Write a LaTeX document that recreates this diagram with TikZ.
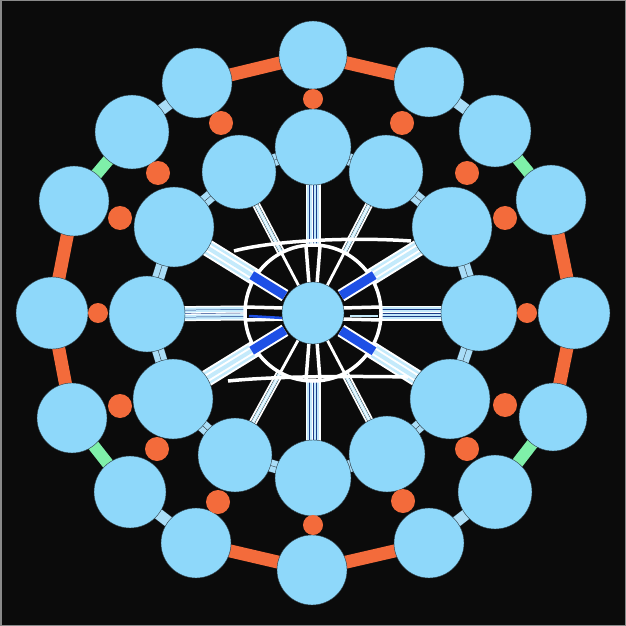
\documentclass[tikz,border=0pt]{standalone}
\usetikzlibrary{calc}
\pgfdeclarelayer{bg}
\pgfsetlayers{bg,main}
\definecolor{bgc}{HTML}{0B0B0B}
\definecolor{bub}{HTML}{8ED8FA}
\definecolor{bubedge}{HTML}{2B3A42}
\definecolor{orng}{HTML}{F36B3B}
\definecolor{grn}{HTML}{7FF0A9}
\definecolor{lnk}{HTML}{A9DDF7}
\definecolor{strand}{HTML}{C4EAFB}
\definecolor{navy}{HTML}{1B3E8A}
\definecolor{dblue}{HTML}{1E50E6}
\definecolor{framec}{HTML}{8A8A8A}
\begin{document}
\begin{tikzpicture}[x=0.03cm,y=-0.03cm,
  pw/.style={line width=#1*0.03cm},
  bubble/.style={circle,fill=bub,draw=bubedge,line width=0.35pt,inner sep=0pt,minimum size=#1*0.06cm},
  odot/.style={circle,fill=orng,inner sep=0pt,minimum size=#1*0.06cm},
  orbar/.style={draw=orng,pw=13},
  grbar/.style={draw=grn,pw=12},
  lbar/.style={draw=bubedge,double=lnk,double distance=11*0.03cm,line width=0.35pt},
  ilink/.style={preaction={draw=bubedge,double=lnk,double distance=12*0.03cm,line width=0.35pt},draw=bubedge,line width=0.35pt},
  sband/.style={preaction={draw=white,pw=15},preaction={draw=strand,pw=12},preaction={draw=navy,pw=7.5},preaction={draw=strand,pw=6.5},preaction={draw=white,pw=2.5},draw=navy,pw=0.4},
  dband/.style={preaction={draw=white,pw=17},preaction={draw=strand,pw=13},preaction={draw=white,pw=8},draw=strand,pw=4},
  tband/.style={preaction={draw=white,pw=8},preaction={draw=bgc,pw=4.2},preaction={draw=strand,pw=3.6},draw=white,pw=0.8},
  wline/.style={draw=white,pw=3.5},
  bseg/.style={preaction={draw=white,pw=13},draw=dblue,pw=9}
]
\useasboundingbox (0,0) rectangle (626,626);
% outer ring
\foreach \n/\x/\y/\r in {O1/313/55/34, O2/197/83/35, O3/429/82/35, O4/132/132/37, O5/495/131/36, O6/74/201/35, O7/551/200/35, O8/52/313/36, O9/574/313/36, O10/72/418/35, O11/553/417/34, O12/130/492/36, O13/495/492/37, O14/196/543/35, O15/429/543/35, O16/312/570/35}
  \node[bubble=\r] (\n) at (\x,\y) {};
% inner ring
\foreach \n/\x/\y/\r in {I1/313/147/38, I2/239/172/37, I3/386/172/37, I4/174/227/40, I5/452/227/40, I6/147/314/38, I7/479/313/38, I8/173/399/40, I9/450/399/40, I10/235/455/37, I11/387/454/38, I12/313/478/38}
  \node[bubble=\r] (\n) at (\x,\y) {};
% centre
\node[bubble=31] (C) at (313,313) {};
% orange dots
\foreach \n/\x/\y/\r in {D1/313/99/10, D2/221/123/12, D3/402/123/12, D4/158/173/12, D5/467/173/12, D6/120/218/12, D7/505/218/12, D8/98/313/10, D9/527/313/10, D10/120/406/12, D11/505/405/12, D12/157/449/12, D13/467/449/12, D14/218/502/12, D15/403/501/12, D16/313/525/10}
  \node[odot=\r] (\n) at (\x,\y) {};

\begin{pgfonlayer}{bg}
\fill[bgc] (0,0) rectangle (626,626);
\draw[framec,pw=1.5] (0.75,0.75) rectangle (625.25,625.25);
% outer links
\foreach \a/\b in {O1/O2,O1/O3,O6/O8,O8/O10,O7/O9,O9/O11,O14/O16,O16/O15}
  \draw[orbar] (\a.center) -- (\b.center);
\foreach \a/\b in {O4/O6,O5/O7,O10/O12,O11/O13}
  \draw[grbar] (\a.center) -- (\b.center);
\foreach \a/\b in {O2/O4,O3/O5,O12/O14,O13/O15}
  \draw[lbar] (\a.center) -- (\b.center);
% inner links
\foreach \a/\b in {I1/I2,I2/I4,I4/I6,I6/I8,I8/I10,I10/I12,I12/I11,I11/I9,I9/I7,I7/I5,I5/I3,I3/I1}
  \draw[ilink] (\a.center) -- (\b.center);
% junction coordinates
\coordinate (TopJ) at (313,246);
\coordinate (BotJ) at (313,379);
\coordinate (LJ) at (245,313);
\coordinate (RJ) at (381,313);
\foreach \k in {4,5,8,9}{
  \coordinate (R\k) at ($(C.center)!2.04cm!(I\k.center)$);
  \coordinate (Ba\k) at ($(C.center)!0.99cm!(I\k.center)$);
  \coordinate (Bb\k) at ($(C.center)!2.16cm!(I\k.center)$);
}
\foreach \k in {2,3,10,11}{
  \coordinate (R\k) at ($(C.center)!2.04cm!(I\k.center)$);
}
% spokes
\draw[sband] (I1.center) -- (TopJ);
\draw[sband] (BotJ) -- (I12.center);
\draw[sband] (I6.center) -- (LJ);
\draw[sband] (RJ) -- (I7.center);
\foreach \k in {4,5,8,9}
  \draw[dband] (R\k) -- (I\k.center);
\foreach \k in {2,3,10,11}{
  \draw[tband] (I\k.center) -- (R\k);
  \draw[wline,pw=2.8] (R\k) -- (C.center);
}
% ring and cross curves
\draw[wline] (C.center) circle[radius=2.04cm];
\coordinate (TL) at (234,251); \coordinate (TR) at (411,241);
\coordinate (BL) at (228,381); \coordinate (BR) at (408,377);
\draw[wline] (TL) .. controls (275,240) and (355,237) .. (TR);
\draw[wline] (BL) .. controls (275,376) and (355,376) .. (BR);
% inner short lines
\coordinate (v1) at (306,246); \coordinate (v2) at (309,284);
\coordinate (v3) at (320,246); \coordinate (v4) at (317,284);
\coordinate (v5) at (309,342); \coordinate (v6) at (306,380);
\coordinate (v7) at (317,342); \coordinate (v8) at (320,380);
\draw[wline] (v1) -- (v2); \draw[wline] (v3) -- (v4);
\draw[wline] (v5) -- (v6); \draw[wline] (v7) -- (v8);
\coordinate (h1) at (245,307); \coordinate (h2) at (284,308);
\coordinate (h3) at (245,320); \coordinate (h4) at (284,319);
\coordinate (h5) at (342,308); \coordinate (h6) at (381,307);
\coordinate (h7) at (342,319); \coordinate (h8) at (381,320);
\draw[wline] (h1) -- (h2); \draw[wline] (h3) -- (h4);
\draw[wline] (h5) -- (h6); \draw[wline] (h7) -- (h8);
\coordinate (s1) at (249,316); \coordinate (s2) at (283,318);
\draw[dblue,pw=2.5] (s1) -- (s2);
\coordinate (s3) at (350,316); \coordinate (s4) at (378,316);
\draw[strand,pw=2] (s3) -- (s4);
% blue segments
\foreach \k in {4,5,8,9}
  \draw[bseg] (Ba\k) -- (Bb\k);
\end{pgfonlayer}
\end{tikzpicture}
\end{document}
